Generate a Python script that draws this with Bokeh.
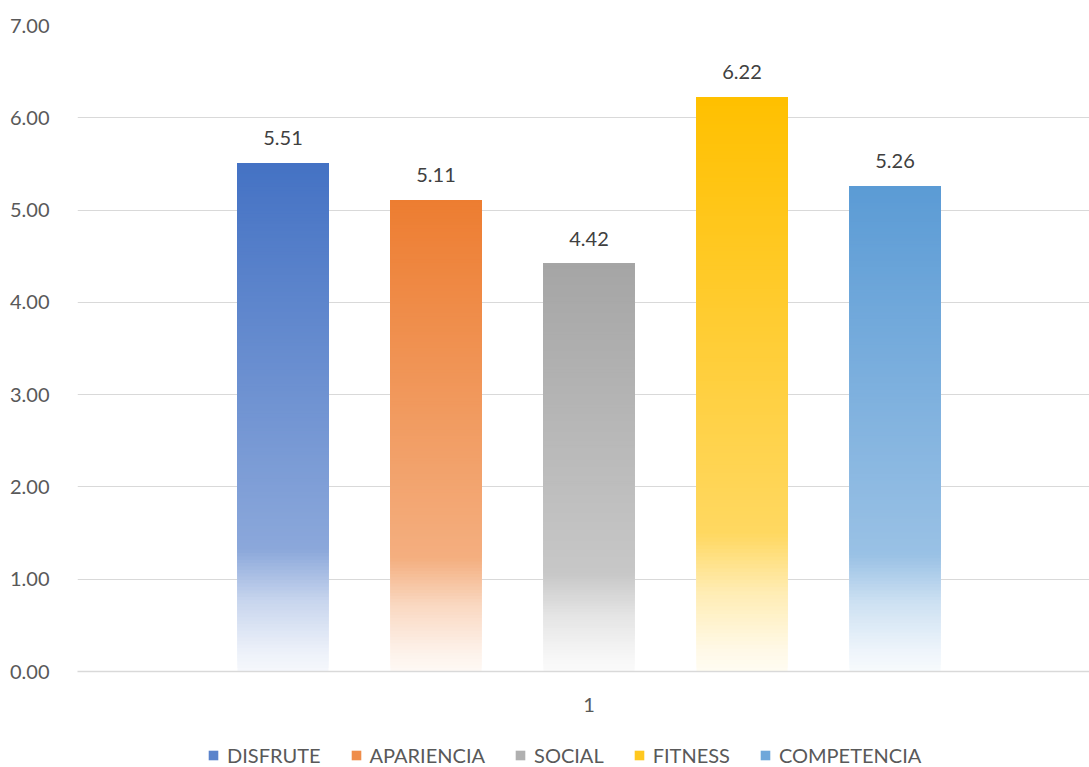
import numpy as np
from bokeh.plotting import figure
from bokeh.layouts import column
from bokeh.models import (Range1d, FixedTicker, ColumnDataSource, Legend, LegendItem,
                          LabelSet, NumeralTickFormatter)
from bokeh.core.properties import value
from bokeh.embed import file_html
from bokeh.resources import INLINE

# ---- data ----
categories = ["DISFRUTE", "APARIENCIA", "SOCIAL", "FITNESS", "COMPETENCIA"]
values = [5.51, 5.11, 4.42, 6.22, 5.26]
colors = ["#4472C4", "#ED7D31", "#A5A5A5", "#FFC000", "#5B9BD5"]
group_label = "1"
y_ticks = [0, 1, 2, 3, 4, 5, 6, 7]

# ---- style ----
FONT = "Lato"
FS = "20px"
BAR_W = 0.595
N_SLICES = 150
STOP_T = [0.0, 0.76, 0.86, 0.96, 1.0]      # fraction from the bar top
STOP_MIX = [0.0, 0.38, 0.70, 0.90, 0.95]   # amount of white mixed in
W = 1089
H_CHART = 737
H_LEG = 30


def hex_to_rgb(h):
    h = h.lstrip("#")
    return np.array([int(h[i:i + 2], 16) for i in (0, 2, 4)], dtype=float)


def mix_white(rgb, m):
    c = rgb + (255.0 - rgb) * m
    c = np.clip(np.round(c), 0, 255).astype(int)
    return "#%02x%02x%02x" % tuple(c)


p = figure(width=W, height=H_CHART, output_backend="svg", toolbar_location=None,
           x_range=Range1d(-1.343, 5.271), y_range=Range1d(0, 7),
           min_border_left=77, min_border_right=0, min_border_top=25,
           min_border_bottom=66)
p.outline_line_color = None
p.background_fill_color = "white"
p.border_fill_color = "white"

for i, (cat, v, col) in enumerate(zip(categories, values, colors)):
    rgb = hex_to_rgb(col)
    ks = np.arange(N_SLICES)
    t = 1.0 - (ks + 0.5) / N_SLICES
    m = np.interp(t, STOP_T, STOP_MIX)
    src = ColumnDataSource(dict(
        left=[i - BAR_W / 2] * N_SLICES,
        right=[i + BAR_W / 2] * N_SLICES,
        bottom=list(v * ks / N_SLICES),
        top=[v] * N_SLICES,
        color=[mix_white(rgb, mm) for mm in m],
    ))
    p.quad(left="left", right="right", bottom="bottom", top="top",
           fill_color="color", line_color=None, source=src)

# data labels
lab_src = ColumnDataSource(dict(x=list(range(len(values))), y=values,
                                label=["%.2f" % v for v in values]))
p.add_layout(LabelSet(x="x", y="y", text="label", source=lab_src,
                      text_align="center", text_baseline="middle", y_offset=25,
                      text_font=value(FONT), text_font_size=value(FS),
                      text_color="#404040"))

# grid
p.xgrid.visible = False
p.ygrid.ticker = FixedTicker(ticks=y_ticks)
p.ygrid.grid_line_color = "#D9D9D9"
p.ygrid.grid_line_width = 1

# y axis
p.yaxis.ticker = FixedTicker(ticks=y_ticks)
p.yaxis.formatter = NumeralTickFormatter(format="0.00")
p.yaxis.axis_line_color = None
p.yaxis.major_tick_line_color = None
p.yaxis.minor_tick_line_color = None
p.yaxis.major_label_standoff = 22
p.yaxis.major_label_text_font = FONT
p.yaxis.major_label_text_font_size = FS
p.yaxis.major_label_text_color = "#595959"

# x axis
center = (len(values) - 1) / 2
p.xaxis.ticker = FixedTicker(ticks=[center])
p.xaxis.major_label_overrides = {center: group_label}
p.xaxis.axis_line_color = "#D9D9D9"
p.xaxis.axis_line_width = 1.5
p.xaxis.major_tick_line_color = None
p.xaxis.minor_tick_line_color = None
p.xaxis.major_label_standoff = 20
p.xaxis.major_label_text_font = FONT
p.xaxis.major_label_text_font_size = FS
p.xaxis.major_label_text_color = "#595959"

# ---- legend strip ----
p2 = figure(width=W, height=H_LEG, output_backend="svg", toolbar_location=None,
            x_range=Range1d(0, 1), y_range=Range1d(0, 1),
            min_border=0, min_border_left=0, min_border_right=0,
            min_border_top=0, min_border_bottom=0)
p2.axis.visible = False
p2.grid.visible = False
p2.outline_line_color = None
p2.background_fill_color = "white"
p2.border_fill_color = "white"

legend_items = []
for cat, col in zip(categories, colors):
    # proxy glyph placed outside the visible range, only used for the legend swatch
    r = p2.quad(left=[2], right=[3], bottom=[2], top=[3],
                fill_color=mix_white(hex_to_rgb(col), 0.12), line_color=None)
    legend_items.append(LegendItem(label=cat, renderers=[r]))

legend = Legend(items=legend_items, orientation="horizontal", location=(130, 0),
                label_text_font=FONT, label_text_font_size=FS,
                label_text_color="#595959", glyph_width=12, glyph_height=12,
                label_standoff=8, spacing=29, margin=0, padding=0,
                border_line_color=None, background_fill_alpha=0)
p2.add_layout(legend, "center")

layout = column(p, p2, spacing=0)
open("out.html", "w").write(file_html(layout, INLINE))
